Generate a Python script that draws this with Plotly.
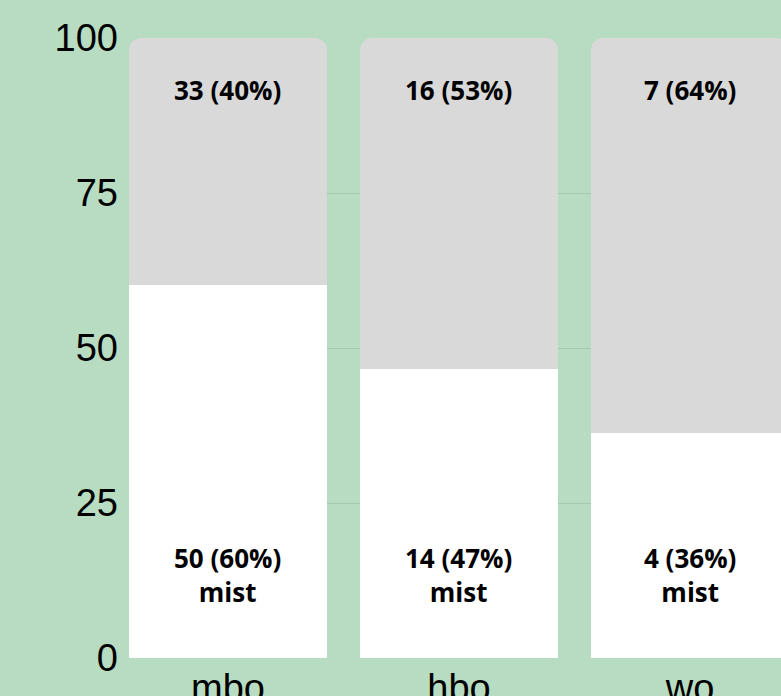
import plotly.graph_objects as go

categories = ["mbo", "hbo", "wo"]
mist_counts = [50, 14, 4]
other_counts = [33, 16, 7]
mist_label = "mist"
y_ticks = [0, 25, 50, 75, 100]

totals = [a + b for a, b in zip(mist_counts, other_counts)]
mist_pct = [100 * a / t for a, t in zip(mist_counts, totals)]
other_pct = [100 * b / t for b, t in zip(other_counts, totals)]

BG = "#b7dcc1"
GRID = "#a3c8ad"

fig = go.Figure()
fig.add_trace(go.Bar(x=categories, y=mist_pct, marker=dict(color="#ffffff", line=dict(width=0)),
                     hoverinfo="skip"))
fig.add_trace(go.Bar(x=categories, y=other_pct, marker=dict(color="#d9d9d9", line=dict(width=0)),
                     hoverinfo="skip"))

label_font = dict(family="Open Sans", size=26, color="#000000")
for c, m, o, mp, op in zip(categories, mist_counts, other_counts, mist_pct, other_pct):
    fig.add_annotation(x=c, y=100, yshift=-52, yanchor="middle", showarrow=False,
                       text=f"<b>{o} ({op:.0f}%)</b>", font=label_font)
    fig.add_annotation(x=c, y=0, yshift=83, yanchor="middle", showarrow=False,
                       text=f"<b>{m} ({mp:.0f}%)<br>{mist_label}</b>", font=label_font)

bargap = 0.143
half = (1 - bargap) / 2
fig.update_layout(
    width=781, height=696,
    barmode="stack", bargap=bargap, barcornerradius=12,
    showlegend=False,
    paper_bgcolor=BG, plot_bgcolor=BG,
    margin=dict(l=129, r=0, t=38, b=38),
    xaxis=dict(range=[-half, -half + 652 / 231], showgrid=False, zeroline=False,
               tickfont=dict(family="Liberation Sans", size=38, color="#000000"),
               ticks="", ticklabelstandoff=4, fixedrange=True, automargin=False),
    yaxis=dict(range=[0, 100], tickvals=y_ticks, showgrid=True, gridcolor=GRID, gridwidth=1,
               zeroline=False, ticks="", ticklabelstandoff=10,
               tickfont=dict(family="Liberation Sans", size=38, color="#000000"),
               fixedrange=True, automargin=False),
)

fig.write_html("out.html")
